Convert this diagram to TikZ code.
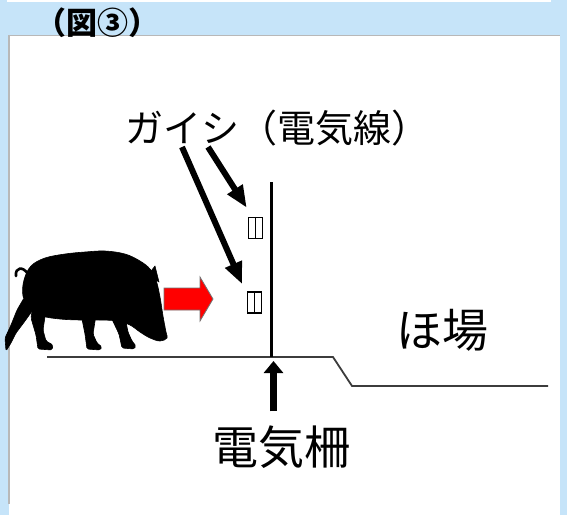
\documentclass[tikz,border=0pt]{standalone}
\usepackage{fontspec}
\newfontfamily\jp{Noto Sans CJK JP}
\usetikzlibrary{arrows.meta}
\definecolor{skyblue}{HTML}{C6E4F9}
\definecolor{panelgray}{HTML}{B8B8B8}
\definecolor{groundgray}{HTML}{3C3C3C}
\definecolor{alarmred}{HTML}{FF0000}
\begin{document}
\begin{tikzpicture}[x=1pt,y=-1pt,
  caption/.style={font=\jp\fontsize{38}{38}\selectfont, inner sep=0pt, anchor=west},
  biglabel/.style={font=\jp\fontsize{46}{46}\selectfont, inner sep=0pt},
  insulator/.style={draw=black, line width=1.5pt, fill=white, minimum width=14pt, minimum height=21pt, inner sep=0pt},
  pointer/.style={line width=6pt, -{Triangle[length=22pt,width=17pt]}},
  uppointer/.style={line width=7pt, -{Triangle[length=12pt,width=19pt]}},
  silhouette/.style={fill=black, draw=black, line width=0.6pt, line join=round}]
\useasboundingbox (0,0) rectangle (567,515);
% page background and white panel
\fill[skyblue] (0,0) rectangle (567,515);
\fill[white] (7,0) rectangle (551,1.5);
\fill[white] (9,35) rectangle (560,515);
\draw[panelgray, line width=1.2pt] (9,504) -- (9,35.6) -- (560,35.6);

% title
\node[font=\jp\bfseries\fontsize{31}{31}\selectfont, inner sep=0pt] (title) at (97,23) {（図③）};

% ground profile
\coordinate (g0) at (47,357);
\coordinate (g1) at (333,357);
\coordinate (g2) at (352,386);
\coordinate (g3) at (548,386);
\draw[groundgray, line width=1.8pt] (g0) -- (g1) -- (g2) -- (g3);

% fence post
\coordinate (postTop) at (271,182);
\coordinate (postFoot) at (271,357);
\draw[line width=3pt] (postTop) -- (postFoot);

% insulators on the post
\node[insulator] (ins1) at (255.5,228) {};
\draw[line width=1.5pt] (ins1.north) -- (ins1.south);
\node[insulator] (ins2) at (254.5,302.5) {};
\draw[line width=1.5pt] (ins2.north) -- (ins2.south);

% labels
\node[caption] (gaishi) at (125,128) {ガイシ（電気線）};
\node[biglabel] (fence) at (281,447) {電気柵};
\node[biglabel] (field) at (442,330) {ほ場};

% pointers from the label to the insulators
\coordinate (s1) at (182,147);
\coordinate (s2) at (208,147);
\draw[pointer] (s1) -- ([shift={(-4.5,-7)}]ins2.north west);
\draw[pointer] (s2) -- ([shift={(-1,-9)}]ins1.north west);

% pointer from the fence label up to the post
\draw[uppointer] ([shift={(-7.5,-14)}]fence.north) -- ([shift={(2.5,4)}]postFoot);

% red arrow in front of the boar
\fill[alarmred, draw=black!55, line width=0.8pt]
  (164,288) -- (200,288) -- (200,277) -- (213,299) -- (200,321) -- (200,310) -- (164,310) -- cycle;

% boar silhouette
\fill[silhouette] plot[smooth cycle, tension=0.6] coordinates {
  (24,280) (31,266) (45,258) (65,254) (85,252) (105,251) (125,254) (140,261)
  (150,269) (156,280) (160,297) (163,316) (166,332) (167,338) (160,341)
  (150,338) (140,332) (130,325) (118,321) (100,320) (80,320) (60,319)
  (42,316) (30,309) (23,296)};
% ear
\fill[silhouette] (148,275) -- (155,266) -- (159,282) -- cycle;
% tail
\draw[line width=2.6pt, line cap=round] (28,274) .. controls (23,266) and (15,267) .. (16,276);
% legs
\fill[silhouette, rounded corners=1.5pt]
  (24,298) -- (35,307) -- (25,321) -- (16,333) -- (11,343) -- (6,351) -- (5,338) -- (11,325) -- (17,310) -- cycle;
\fill[silhouette, rounded corners=1.5pt]
  (33,305) -- (46,310) -- (43,330) -- (46,341) -- (53,345) -- (52,350) -- (38,349) -- (36,335) -- (31,318) -- cycle;
\fill[silhouette, rounded corners=1.5pt]
  (81,314) -- (96,315) -- (93,334) -- (97,343) -- (102,347) -- (100,350) -- (87,349) -- (85,334) -- cycle;
\fill[silhouette, rounded corners=1.5pt]
  (110,315) -- (125,317) -- (128,332) -- (132,341) -- (136,346) -- (134,349) -- (122,348) -- (119,334) -- cycle;
\end{tikzpicture}
\end{document}
